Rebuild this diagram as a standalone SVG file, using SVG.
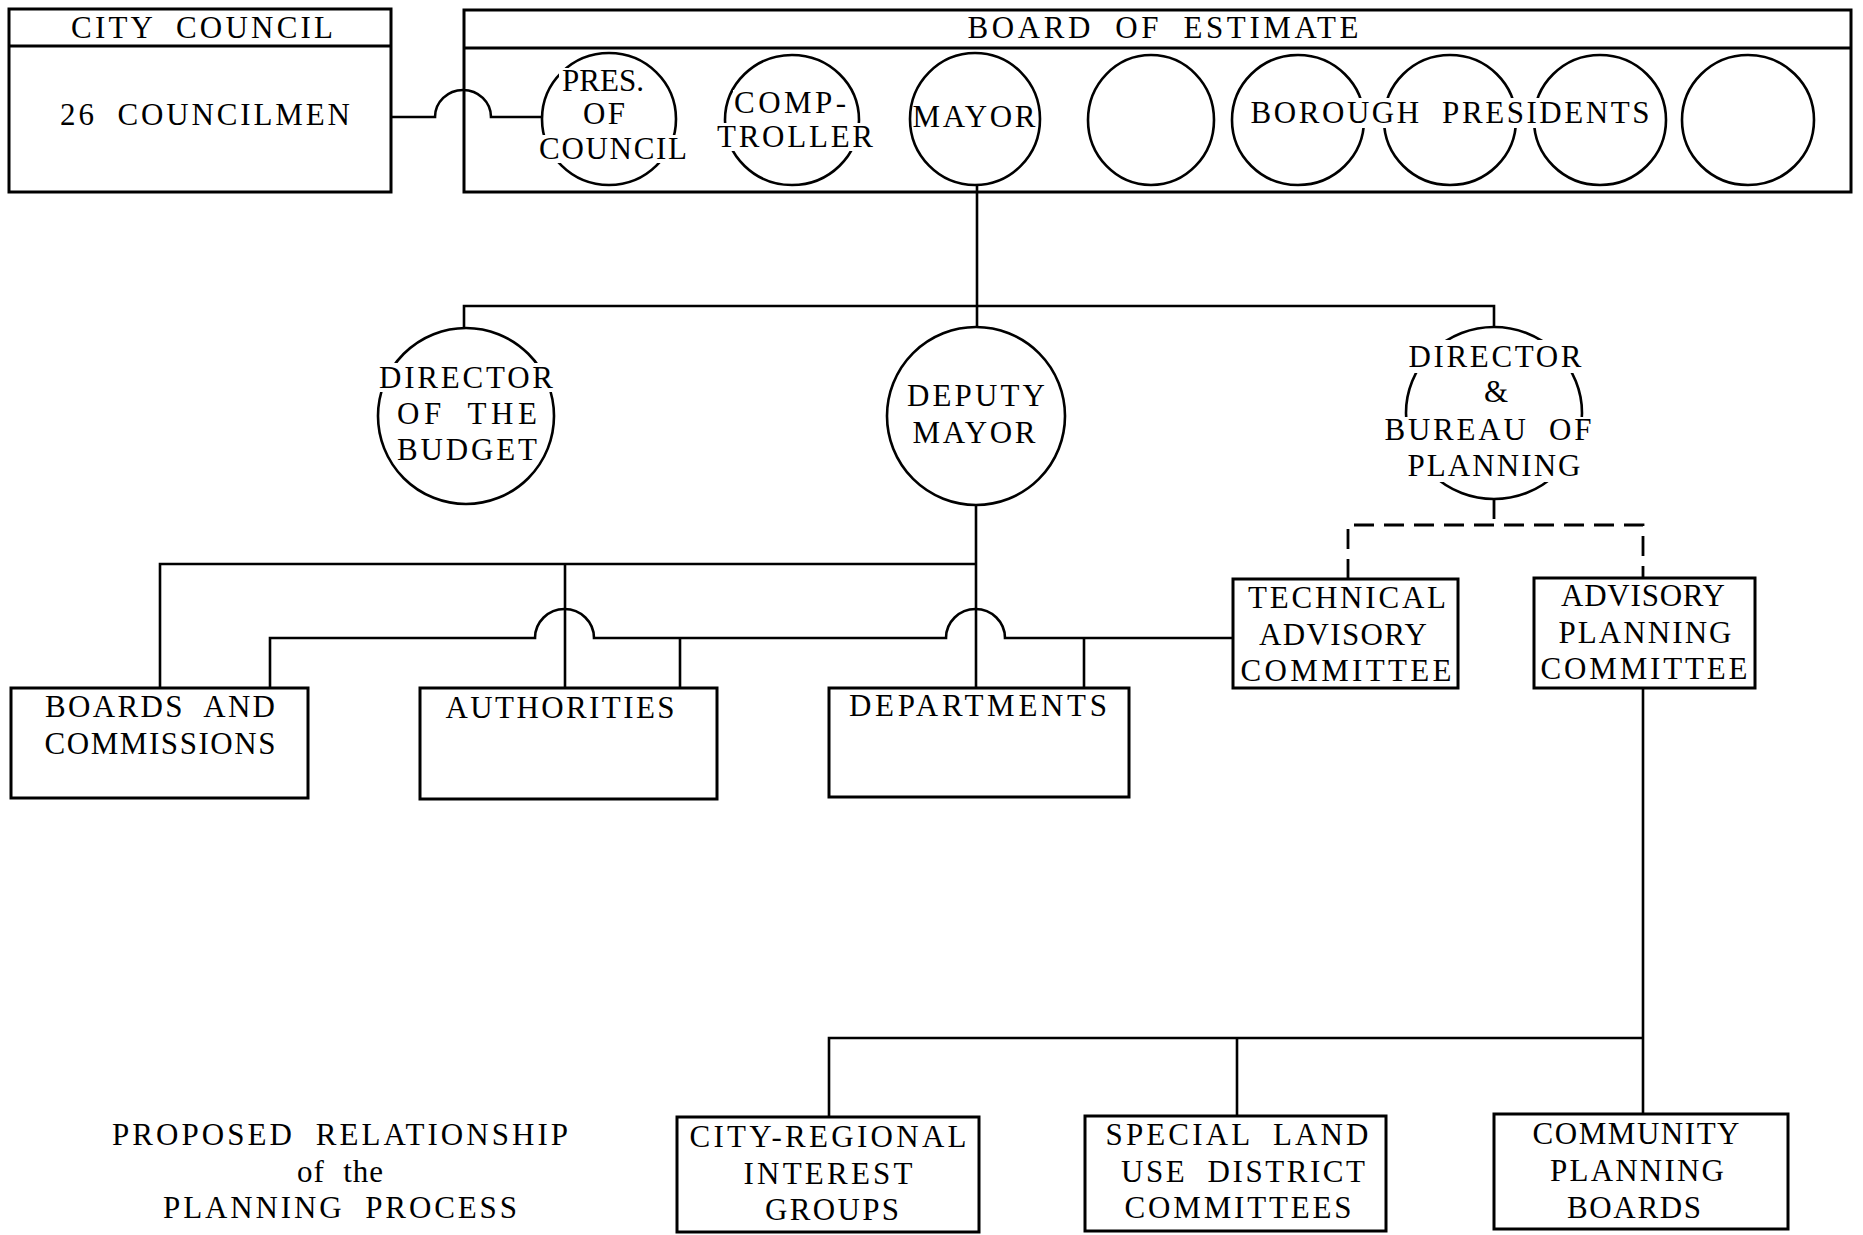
<svg xmlns="http://www.w3.org/2000/svg" width="1863" height="1235" viewBox="0 0 1863 1235">
<style>
  .box { fill: none; stroke: #000; stroke-width: 3; }
  .ell { fill: none; stroke: #000; stroke-width: 2.6; }
  .ln { fill: none; stroke: #000; stroke-width: 2.6; }
  .dash { fill: none; stroke: #000; stroke-width: 2.8; stroke-dasharray: 20 10; }
  .knock { fill: #fff; stroke: none; }
  text { font-family: "Liberation Serif", "DejaVu Serif", serif; font-size: 31px; fill: #000; text-anchor: middle; word-spacing: 10px; }
</style>
<rect width="1863" height="1235" fill="#fff"/>

<g id="connectors">
  <path class="ln" d="M391 117 H435 A28 27 0 0 1 491 117 H542"/>
  <path class="ln" d="M977 185 V327"/>
  <path class="ln" d="M464 327 V306 H1494 V327"/>
  <path class="ln" d="M976 505 V688"/>
  <path class="ln" d="M160 688 V564 H976"/>
  <path class="ln" d="M565 564 V688"/>
  <path class="ln" d="M270 688 V638 H535 A29.5 29 0 0 1 594 638 H946 A29.5 29 0 0 1 1005 638 H1233"/>
  <path class="ln" d="M680 638 V688"/>
  <path class="ln" d="M1084 638 V688"/>
  <path class="dash" d="M1494 499 V525"/>
  <path class="dash" d="M1348 579 V525 H1643 V578"/>
  <path class="ln" d="M1643 688 V1114"/>
  <path class="ln" d="M829 1117 V1038 H1643"/>
  <path class="ln" d="M1237 1038 V1116"/>
</g>

<g id="city-council">
  <rect class="box" x="9" y="9" width="382" height="183"/>
  <line class="box" x1="9" y1="46" x2="391" y2="46"/>
  <text x="202" y="38" textLength="262" lengthAdjust="spacing">CITY COUNCIL</text>
  <text x="205" y="125" textLength="290" lengthAdjust="spacing">26 COUNCILMEN</text>
</g>

<g id="board-of-estimate">
  <rect class="box" x="464" y="10" width="1387" height="182"/>
  <line class="box" x1="464" y1="48" x2="1851" y2="48"/>
  <text x="1163" y="38" textLength="391" lengthAdjust="spacing">BOARD OF ESTIMATE</text>
</g>

<g id="pres-of-council">
  <ellipse class="ell" cx="609" cy="119" rx="67" ry="66"/>
  <rect class="knock" x="559" y="68" width="87" height="27"/>
  <rect class="knock" x="536" y="135" width="154" height="28"/>
  <text x="603" y="91" textLength="82" lengthAdjust="spacing">PRES.</text>
  <text x="604" y="124" textLength="42" lengthAdjust="spacing">OF</text>
  <text x="613" y="159" textLength="148" lengthAdjust="spacing">COUNCIL</text>
</g>

<g id="comptroller">
  <ellipse class="ell" cx="792" cy="120" rx="67" ry="65"/>
  <rect class="knock" x="733" y="90" width="116" height="27"/>
  <rect class="knock" x="713" y="123" width="164" height="28"/>
  <text x="790" y="113" textLength="112" lengthAdjust="spacing">COMP-</text>
  <text x="795" y="147" textLength="156" lengthAdjust="spacing">TROLLER</text>
</g>

<g id="mayor">
  <ellipse class="ell" cx="975" cy="119" rx="65" ry="66"/>
  <text x="974" y="127" textLength="123" lengthAdjust="spacing">MAYOR</text>
</g>

<g id="borough-presidents">
  <ellipse class="ell" cx="1151" cy="120" rx="63" ry="65"/>
  <ellipse class="ell" cx="1298" cy="120" rx="66" ry="65"/>
  <ellipse class="ell" cx="1450" cy="120" rx="66" ry="65"/>
  <ellipse class="ell" cx="1600" cy="120" rx="66" ry="65"/>
  <ellipse class="ell" cx="1748" cy="120" rx="66" ry="65"/>
  <rect class="knock" x="1249" y="98" width="404" height="30"/>
  <text x="1450" y="123" textLength="399" lengthAdjust="spacing">BOROUGH PRESIDENTS</text>
</g>

<g id="director-of-budget">
  <ellipse class="ell" cx="466" cy="416" rx="88" ry="88"/>
  <rect class="knock" x="375" y="363" width="182" height="29"/>
  <text x="466" y="388" textLength="174" lengthAdjust="spacing">DIRECTOR</text>
  <text x="467" y="424" textLength="140" lengthAdjust="spacing">OF THE</text>
  <text x="467" y="460" textLength="140" lengthAdjust="spacing">BUDGET</text>
</g>

<g id="deputy-mayor">
  <ellipse class="ell" cx="976" cy="416" rx="89" ry="89"/>
  <text x="976" y="406" textLength="138" lengthAdjust="spacing">DEPUTY</text>
  <text x="974" y="443" textLength="123" lengthAdjust="spacing">MAYOR</text>
</g>

<g id="director-bureau-of-planning">
  <ellipse class="ell" cx="1494" cy="413" rx="88" ry="86"/>
  <rect class="knock" x="1404" y="340" width="183" height="33"/>
  <rect class="knock" x="1380" y="417" width="215" height="65"/>
  <text x="1495" y="367" textLength="173" lengthAdjust="spacing">DIRECTOR</text>
  <text x="1496" y="402">&amp;</text>
  <text x="1488" y="440" textLength="207" lengthAdjust="spacing">BUREAU OF</text>
  <text x="1494" y="476" textLength="173" lengthAdjust="spacing">PLANNING</text>
</g>

<g id="technical-advisory-committee">
  <rect class="box" x="1233" y="579" width="225" height="109"/>
  <text x="1347" y="608" textLength="198" lengthAdjust="spacing">TECHNICAL</text>
  <text x="1343" y="645" textLength="168" lengthAdjust="spacing">ADVISORY</text>
  <text x="1346" y="681" textLength="211" lengthAdjust="spacing">COMMITTEE</text>
</g>

<g id="advisory-planning-committee">
  <rect class="box" x="1534" y="578" width="221" height="110"/>
  <text x="1643" y="606" textLength="164" lengthAdjust="spacing">ADVISORY</text>
  <text x="1645" y="643" textLength="173" lengthAdjust="spacing">PLANNING</text>
  <text x="1644" y="679" textLength="207" lengthAdjust="spacing">COMMITTEE</text>
</g>

<g id="boards-and-commissions">
  <rect class="box" x="11" y="688" width="297" height="110"/>
  <text x="160" y="717" textLength="230" lengthAdjust="spacing">BOARDS AND</text>
  <text x="160" y="754" textLength="231" lengthAdjust="spacing">COMMISSIONS</text>
</g>

<g id="authorities">
  <rect class="box" x="420" y="688" width="297" height="111"/>
  <text x="560" y="718" textLength="229" lengthAdjust="spacing">AUTHORITIES</text>
</g>

<g id="departments">
  <rect class="box" x="829" y="688" width="300" height="109"/>
  <text x="978" y="716" textLength="258" lengthAdjust="spacing">DEPARTMENTS</text>
</g>

<g id="city-regional-interest-groups">
  <rect class="box" x="677" y="1117" width="302" height="115"/>
  <text x="828" y="1147" textLength="277" lengthAdjust="spacing">CITY-REGIONAL</text>
  <text x="828" y="1184" textLength="169" lengthAdjust="spacing">INTEREST</text>
  <text x="832" y="1220" textLength="134" lengthAdjust="spacing">GROUPS</text>
</g>

<g id="special-land-use-district-committees">
  <rect class="box" x="1085" y="1116" width="301" height="115"/>
  <text x="1237" y="1145" textLength="263" lengthAdjust="spacing">SPECIAL LAND</text>
  <text x="1243" y="1182" textLength="244" lengthAdjust="spacing">USE DISTRICT</text>
  <text x="1238" y="1218" textLength="227" lengthAdjust="spacing">COMMITTEES</text>
</g>

<g id="community-planning-boards">
  <rect class="box" x="1494" y="1114" width="294" height="115"/>
  <text x="1636" y="1144" textLength="207" lengthAdjust="spacing">COMMUNITY</text>
  <text x="1637" y="1181" textLength="174" lengthAdjust="spacing">PLANNING</text>
  <text x="1634" y="1218" textLength="134" lengthAdjust="spacing">BOARDS</text>
</g>

<g id="title">
  <text x="340" y="1145" textLength="456" lengthAdjust="spacing">PROPOSED RELATIONSHIP</text>
  <text x="340" y="1182" textLength="86" lengthAdjust="spacing">of the</text>
  <text x="340" y="1218" textLength="354" lengthAdjust="spacing">PLANNING PROCESS</text>
</g>
</svg>
